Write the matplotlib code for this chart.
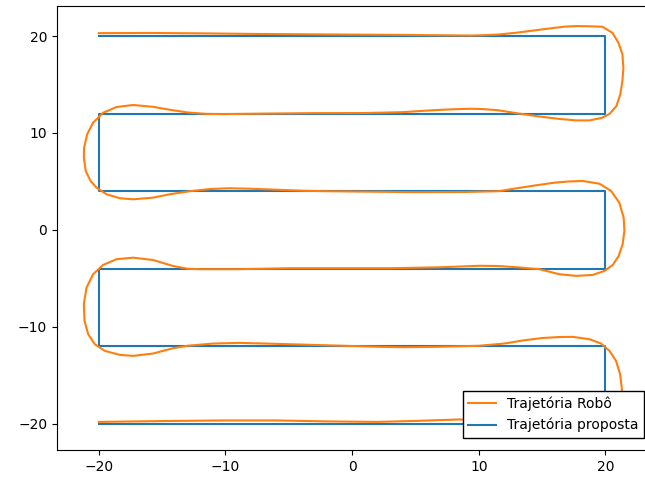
import matplotlib
matplotlib.use("Agg")
import matplotlib.pyplot as plt

# trajetoria proposta (waypoints)
prop_x = [-20, 20, 20, -20, -20, 20, 20, -20, -20, 20, 20, -20]
prop_y = [20, 20, 12, 12, 4, 4, -4, -4, -12, -12, -20, -20]

# trajetoria do robo
robo_x = [-20, -16, -12, -8, -4, 0, 4, 7, 9.5, 11.5, 13, 14.5, 16, 16.8, 17.7, 18.7, 19.76,
          20.55, 21.03, 21.34, 21.42, 21.34, 21.18, 20.87, 20.32, 19.69, 18.74, 17.7, 16.37,
          14.8, 13.2, 11.5, 10.3, 9.3, 8, 6, 4, 1, -3, -7, -10, -11.5, -13, -14.4, -15.72,
          -17.29, -18.6, -19.66, -20.45, -20.92, -21.16, -21.18, -21.03, -20.65, -20.18, -19.39,
          -18.34, -17.29, -15.72, -14.4, -12.8, -11.2, -9.7, -8, -6, -4, -2.3, 1, 5, 9, 11.6,
          13, 14.5, 16, 17.1, 18.21,
          19.53, 20.45, 21.1, 21.44, 21.5, 21.36, 21.05, 20.58, 19.92, 19.0, 17.69, 16.37, 14.79,
          13, 11.5, 10, 8.5, 7, 3, -1, -5, -9, -12, -13, -14.14, -15.72,
          -17.29, -18.6, -19.66, -20.45, -20.97, -21.18, -21.13, -20.84, -20.32, -19.53, -18.34,
          -17.29, -15.72, -14.14, -13, -11, -8.9, -6, -2, 2, 4, 7, 10, 12, 13.5, 15, 16.3,
          17.42, 18.74, 19.66, 20.32, 20.84, 21.16, 21.32, 21.3, 21.0, 20.3, 19.2,
          17.5, 15.5, 13, 10.5, 8.5, 5, 2, -2, -6, -10, -14, -17, -20]
robo_y = [20.3, 20.32, 20.28, 20.22, 20.18, 20.15, 20.12, 20.08, 20.05, 20.15, 20.35, 20.6, 20.85, 20.97, 21.03, 21.01, 20.96,
          20.34, 19.31, 18.14, 16.7, 15.36, 14.02, 12.78, 11.96, 11.55, 11.3, 11.3, 11.45,
          11.7, 12.0, 12.35, 12.47, 12.5, 12.45, 12.32, 12.15, 12.06, 12.05, 12.0, 11.95, 11.97, 12.12, 12.4, 12.7,
          12.89, 12.68, 12.09, 11.06, 9.87, 8.48, 7.45, 6.08, 5.05, 4.36, 3.68,
          3.27, 3.16, 3.33, 3.68, 4.0, 4.22, 4.3, 4.25, 4.15, 4.05, 4.0, 3.95, 3.9, 3.92, 4.0,
          4.3, 4.6, 4.88, 5.0, 5.05,
          4.77, 4.02, 2.81, 1.27, -0.1, -1.47, -2.68, -3.61, -4.23, -4.64, -4.74, -4.57, -4.05,
          -3.85, -3.72, -3.7, -3.78, -3.85, -3.95, -3.95, -3.95, -4.05, -4.05, -4.0, -3.72, -3.1,
          -2.86, -3.02, -3.61, -4.57, -5.95, -7.66, -9.38, -10.75, -11.78, -12.47, -12.89,
          -12.99, -12.75, -12.2, -11.95, -11.72, -11.65, -11.75, -11.9, -12.05, -12.1, -12.05, -11.95, -11.72, -11.4, -11.15, -11.05,
          -11.03, -11.27, -11.72, -12.47, -13.51, -14.88, -16.6, -17.8, -19.0, -19.9, -20.5,
          -20.7, -20.5, -20.1, -19.75, -19.55, -19.7, -19.8, -19.75, -19.65, -19.65, -19.7, -19.75, -19.8]

fig = plt.figure(figsize=(6.45, 4.8), dpi=100)
ax = fig.add_axes([57/645, 30/480, 594/645, 444/480])

l_prop, = ax.plot(prop_x, prop_y, color="C0")
l_robo, = ax.plot(robo_x, robo_y, color="C1")

ax.set_xlim(-23.3, 23.6)
ax.set_ylim(-22.7, 23.1)
ax.set_xticks([-20, -10, 0, 10, 20])
ax.set_yticks([-20, -10, 0, 10, 20])

ax.legend([l_robo, l_prop], ["Trajetória Robô", "Trajetória proposta"],
          loc="lower right", bbox_to_anchor=(644/645, 42/480),
          bbox_transform=fig.transFigure, borderaxespad=0,
          fancybox=False, framealpha=1, edgecolor="black")

fig.savefig("out.png", dpi=100)
